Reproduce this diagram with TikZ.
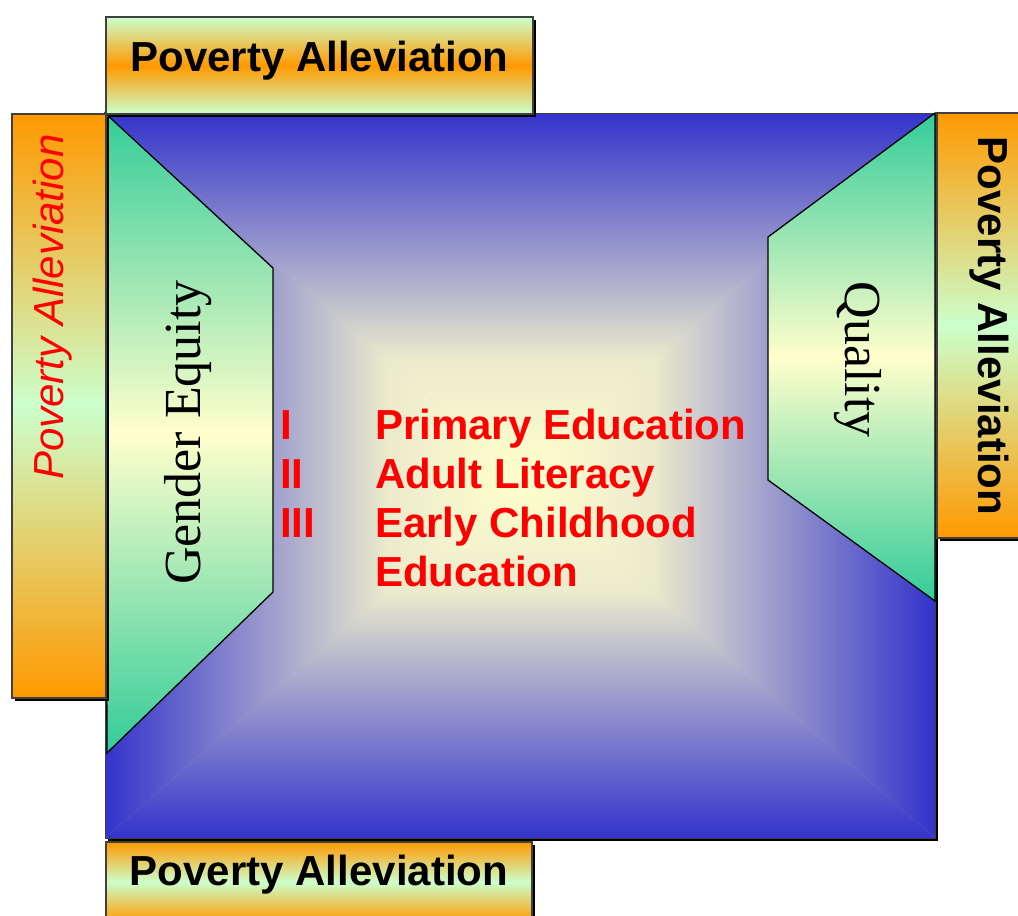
\documentclass[tikz,border=0pt]{standalone}
\usepackage{fontspec}
\setmainfont{Liberation Serif}
\setsansfont{Liberation Sans}
\usetikzlibrary{shadows}
\definecolor{paorange}{RGB}{255,153,0}
\definecolor{pagreen}{RGB}{204,255,204}
\definecolor{trteal}{RGB}{51,204,153}
\definecolor{cyellow}{RGB}{255,255,204}
\definecolor{sqblue}{RGB}{51,51,204}
\definecolor{sqmid}{RGB}{185,185,205}
\definecolor{sqpale}{RGB}{235,235,205}
\pgfdeclareverticalshading{sqfade}{100bp}{color(0bp)=(cyellow); color(25bp)=(cyellow);
  color(41bp)=(sqpale); color(50bp)=(sqmid); color(75bp)=(sqblue); color(100bp)=(sqblue)}
\tikzset{
pabox/.style={
  rectangle,
  draw=black!75,
  line width=1.2pt,
  inner sep=0pt,
  drop shadow={shadow xshift=3pt, shadow yshift=-3pt, opacity=1, fill=black}
},
edgegreen/.style={top color=pagreen, bottom color=pagreen, middle color=paorange},
edgeorange/.style={top color=paorange, bottom color=paorange, middle color=pagreen},
patext/.style={font=\sffamily\bfseries\fontsize{42}{49}\selectfont, inner sep=0pt},
pared/.style={font=\sffamily\itshape\fontsize{42}{49}\selectfont, text=red, inner sep=0pt},
trap/.style={draw=black, line width=1.3pt, top color=trteal, bottom color=trteal, middle color=cyellow},
traptext/.style={font=\rmfamily\fontsize{52}{60}\selectfont, inner sep=0pt},
listtext/.style={patext, text=red, anchor=base west},
}

\begin{document}
\begin{tikzpicture}[x=1pt, y=-1pt]
\useasboundingbox (0,0) rectangle (1018,916);
\clip (0,0) rectangle (1018,916);
% the square
\coordinate (sq-nw) at (105,113);
\coordinate (sq-ne) at (935,113);
\coordinate (sq-se) at (935,838);
\coordinate (sq-sw) at (105,838);
\coordinate (sq-c) at (520,475.5);
\fill[black] ([shift={(3,3)}]sq-nw) rectangle ([shift={(3,3)}]sq-se);
\fill[sqmid] (sq-nw) rectangle (sq-se);
\shade[shading=sqfade, shading angle=0] (sq-nw) -- (sq-ne) -- (sq-c) -- cycle;
\shade[shading=sqfade, shading angle=180] (sq-sw) -- (sq-se) -- (sq-c) -- cycle;
\shade[shading=sqfade, shading angle=90] (sq-nw) -- (sq-sw) -- (sq-c) -- cycle;
\shade[shading=sqfade, shading angle=-90] (sq-ne) -- (sq-se) -- (sq-c) -- cycle;
\draw[black!75, line width=1pt] (sq-nw) rectangle (sq-se);
% the trapezoids
\shade[trap] (sq-nw) -- (273,268) -- (273,592) -- (107,753) -- cycle;
\shade[trap] (sq-ne) -- (768,237) -- (768,480) -- (935,601) -- cycle;
\node[traptext, rotate=90, anchor=base] (gender) at (200,432.5) {Gender Equity};
\node[traptext, rotate=-90, anchor=base] (quality) at (845,359.5) {Quality};
% the boxes
\node[pabox, edgegreen, minimum width=427pt, minimum height=97pt] (pa-top) at (319.5,65.5) {};
\node[pabox, edgeorange, minimum width=426pt, minimum height=80pt] (pa-bottom) at (319,882) {};
\node[pabox, edgeorange, minimum width=94pt, minimum height=584pt] (pa-left) at (59,406) {};
\node[pabox, edgeorange, minimum width=103pt, minimum height=425pt] (pa-right) at (988.5,325.5) {};
\node[patext, anchor=base] (pa-top-txt) at (319.5,71) {Poverty Alleviation};
\node[patext, anchor=base] (pa-bottom-txt) at (319,885) {Poverty Alleviation};
\node[pared, rotate=90, anchor=base] (pa-left-txt) at (63,307) {Poverty Alleviation};
\node[patext, rotate=-90, anchor=base] (pa-right-txt) at (978,326) {Poverty Alleviation};
% the list
\foreach \num/\entry/\row in {I/Primary Education/0, II/Adult Literacy/1, III/Early Childhood/2}
{
  \node[listtext] (num-\row) at (280,{439+49*\row}) {\num};
  \node[listtext] (entry-\row) at (375,{439+49*\row}) {\entry};
}
\node[listtext] (entry-3) at (375,586) {Education};
\end{tikzpicture}
\end{document}
